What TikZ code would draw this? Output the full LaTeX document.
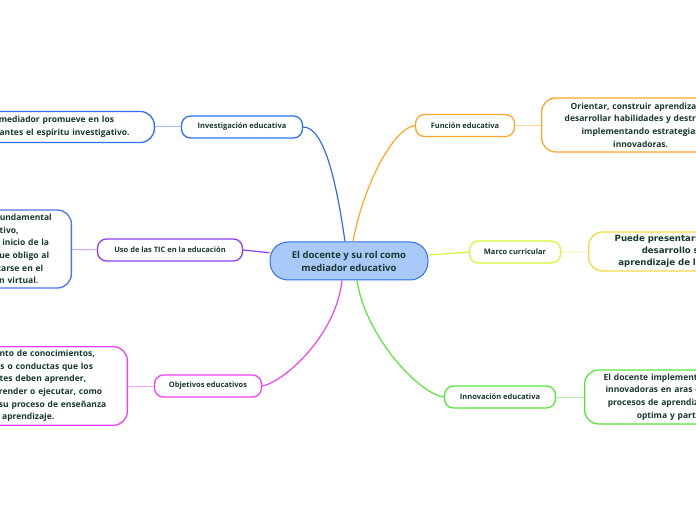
\documentclass[tikz,border=0pt]{standalone}
\usepackage{fontspec}
\setmainfont{Open Sans}
\newfontfamily\widefont{DejaVu Sans}
\usetikzlibrary{calc}
\definecolor{ink}{HTML}{17392F}
\definecolor{rootfill}{HTML}{A9C9FA}
\definecolor{mapblue}{HTML}{2F6FEB}
\definecolor{mapviolet}{HTML}{4F72F2}
\definecolor{mappurple}{HTML}{8B3DF0}
\definecolor{mapmagenta}{HTML}{EE44EE}
\definecolor{maporange}{HTML}{FFA52A}
\definecolor{mapyellow}{HTML}{DDF23C}
\definecolor{mapgold}{HTML}{F7D83E}
\definecolor{mapgreen}{HTML}{55E63A}

\begin{document}
\begin{tikzpicture}[x=1pt, y=1pt,
	every node/.style={text=ink},
	root/.style={draw=mapblue, fill=rootfill, line width=1pt, rounded corners=18pt, minimum width=158pt, minimum height=38pt, align=center, font=\bfseries\fontsize{9.5}{13}\selectfont},
	topic/.style={draw=#1, fill=white, line width=1.3pt, rounded corners=9pt, minimum height=22pt, inner xsep=4pt, font=\bfseries\fontsize{7.5}{9}\selectfont},
	leaf/.style={draw=#1, fill=white, line width=1.3pt, rounded corners=14pt, align=center, inner xsep=12pt, font=\bfseries\fontsize{8.5}{12.7}\selectfont},
	branch/.style={draw=#1, line width=1.2pt},
	twig/.style={draw=#1!45, line width=1pt}]
	\useasboundingbox (0,0) rectangle (696,520);
	\clip (0,0) rectangle (696,520);

	% centre
	\node[root] (root) at (349,259) {El docente y su rol como\\mediador educativo};

	% left side
	\node[topic=mapblue, minimum width=121pt] (inv) at (242,393) {Investigación educativa};
	\node[leaf=mapblue, text width=182pt, minimum height=31pt, anchor=east] (invL) at (155,393) {El mediador promueve en los\\estudiantes el espíritu investigativo.};
	\node[topic=mappurple, minimum width=145pt] (tic) at (170,270) {Uso de las TIC en la educación};
	\node[leaf=mapviolet, text width=150pt, minimum height=78pt, anchor=east] (ticL) at (72,271) {Este fue un punto fundamental\\en lo educativo,\\ya que a partir del inicio de la\\cuarentena es lo que obligo al\\docente a capacitarse en el\\uso de educación virtual.};
	\node[topic=mapmagenta, minimum width=107pt] (obj) at (208,134) {Objetivos educativos};
	\node[leaf=mapmagenta, text width=182pt, minimum height=78pt, anchor=east] (objL) at (128,134) {Es el conjunto de conocimientos,\\habilidades o conductas que los\\estudiantes deben aprender,\\saber, comprender o ejecutar, como\\resultado de su proceso de enseñanza\\y aprendizaje.};

	% right side
	\node[topic=maporange, minimum width=99pt] (fun) at (465,394.5) {Función educativa};
	\node[leaf=maporange, text width=174pt, minimum height=54pt, anchor=west] (funL) at (541,395) {Orientar, construir aprendizajes,\\desarrollar habilidades y destrezas,\\implementando estrategias\\innovadoras.};
	\node[topic=mapyellow, minimum width=91pt] (mar) at (515,268) {Marco curricular};
	\node[leaf=mapgold, text width=160pt, minimum height=39pt, anchor=west, font=\widefont\bfseries\fontsize{8.6}{12}\selectfont] (marL) at (588,268.5) {Puede presentarse como el\\desarrollo sin el\\aprendizaje de las clases.};
	\node[topic=mapgreen, minimum width=111pt] (inn) at (500,123) {Innovación educativa};
	\node[leaf=mapgreen, text width=178pt, minimum height=54pt, anchor=west] (innL) at (584,123) {El docente implementa las estrategias\\innovadoras en aras de fortalecer los\\procesos de aprendizaje de la forma\\optima y participativa.};

	% branches
	\draw[branch=mapblue] ([xshift=-4pt]root.north) .. controls +(-8,55) and +(22,0) .. (inv.east);
	\draw[branch=maporange] ([xshift=4pt]root.north) .. controls +(10,55) and +(-22,-3) .. (fun.west);
	\draw[branch=mappurple] (tic.east) -- (root);
	\draw[branch=mapyellow] (root) -- (mar.west);
	\draw[branch=mapmagenta] ([xshift=-7pt]root.south) .. controls +(-6,-55) and +(22,4) .. (obj.east);
	\draw[branch=mapgreen] ([xshift=8pt]root.south) .. controls +(8,-55) and +(-25,3) .. (inn.west);

	% twigs
	\foreach \a/\b/\c in {inv/invL/mapblue, tic/ticL/mappurple, obj/objL/mapmagenta, fun/funL/maporange, mar/marL/mapyellow, inn/innL/mapgreen}{
		\draw[twig=\c] (\a) -- (\b);
		};
\end{tikzpicture}
\end{document}
